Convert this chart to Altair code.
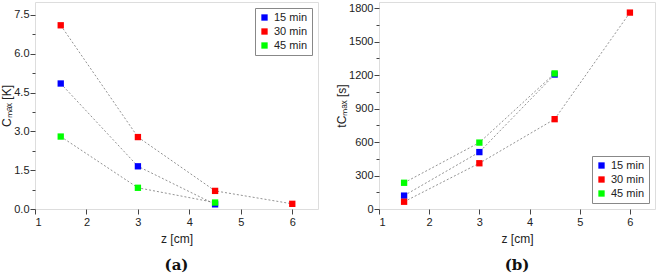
import altair as alt
import pandas as pd

series = ["15 min", "30 min", "45 min"]
colors = ["#0000ff", "#ff0000", "#00ff00"]

z_15 = [1.5, 3.0, 4.5]
z_30 = [1.5, 3.0, 4.5, 6.0]
z_45 = [1.5, 3.0, 4.5]

cmax_15 = [4.85, 1.65, 0.18]
cmax_30 = [7.1, 2.78, 0.7, 0.2]
cmax_45 = [2.8, 0.82, 0.25]

tmax_15 = [120, 510, 1205]
tmax_30 = [65, 410, 805, 1760]
tmax_45 = [235, 595, 1215]

x_ticks = [1, 1.5, 2, 2.5, 3, 3.5, 4, 4.5, 5, 5.5, 6, 6.5]
ya_ticks = [0, 0.75, 1.5, 2.25, 3.0, 3.75, 4.5, 5.25, 6.0, 6.75, 7.5]
yb_ticks = [0, 150, 300, 450, 600, 750, 900, 1050, 1200, 1350, 1500, 1650, 1800]


def frame(zs, vals):
    rows = []
    for s, zz, vv in zip(series, zs, vals):
        for a, b in zip(zz, vv):
            rows.append({"z": a, "v": b, "s": s})
    return pd.DataFrame(rows)


dfa = frame([z_15, z_30, z_45], [cmax_15, cmax_30, cmax_45])
dfb = frame([z_15, z_30, z_45], [tmax_15, tmax_30, tmax_45])

FONT = "Liberation Sans"


def axis_common(step, lp):
    return dict(
        domain=False,
        grid=False,
        ticks=True,
        tickColor="#444",
        tickSize={"condition": {"test": f"abs(datum.value/{step} - round(datum.value/{step})) > 0.01", "value": 3}, "value": 5},
        labelExpr=f"abs(datum.value/{step} - round(datum.value/{step})) > 0.01 ? '' : datum.label",
        labelFont=FONT,
        labelFontSize=11,
        labelColor="#222",
        titleFont=FONT,
        titleFontSize=12,
        titleFontWeight="normal",
        titleColor="#222",
        labelPadding=lp,
    )


def panel(df, ytitle, ydomain, yticks, ystep, yfmt, legend_orient, caption, w):
    xenc = alt.X("z:Q", scale=alt.Scale(domain=[1, 6.5], nice=False),
                 axis=alt.Axis(values=x_ticks, title="z [cm]", format="d", titlePadding=6, **axis_common(1, 2)))
    yenc = alt.Y("v:Q", scale=alt.Scale(domain=ydomain, nice=False),
                 axis=alt.Axis(values=yticks, title=ytitle, format=yfmt, titlePadding=0, **axis_common(ystep, 1)))
    color = alt.Color("s:N", scale=alt.Scale(domain=series, range=colors),
                      legend=alt.Legend(title=None, orient=legend_orient, symbolType="square",
                                        symbolSize=40, symbolStrokeWidth=0, labelFont=FONT,
                                        labelFontSize=11, labelColor="#222", strokeColor="#888",
                                        fillColor="white", padding=4, rowPadding=2,
                                        offset=6))
    base = alt.Chart(df)
    lines = base.mark_line(strokeDash=[2, 2], strokeWidth=0.8, color="#777").encode(
        x=xenc, y=yenc, detail="s:N")
    pts = base.mark_square(size=40, opacity=1).encode(x=xenc, y=yenc, color=color)
    return alt.layer(lines, pts).properties(
        width=w, height=207,
        title=alt.TitleParams(caption, orient="bottom", font="DejaVu Serif",
                              fontSize=15, fontWeight="bold", color="#111", offset=14))


left = panel(dfa, "Cₘₐₓ [K]", [0, 8.0], ya_ticks, 1.5, ".1f", "top-right", "(a)", 283)
right = panel(dfb, "tCₘₐₓ [s]", [0, 1855], yb_ticks, 300, "d", "bottom-right", "(b)", 276)

chart = alt.hconcat(left, right, spacing=16).configure_view(
    stroke="#555", strokeWidth=1).properties(padding={"left": 0, "top": 1, "right": 0, "bottom": 0}).configure(
    background="white")

chart.save("out.html", embed_options={"renderer": "svg", "actions": False})
